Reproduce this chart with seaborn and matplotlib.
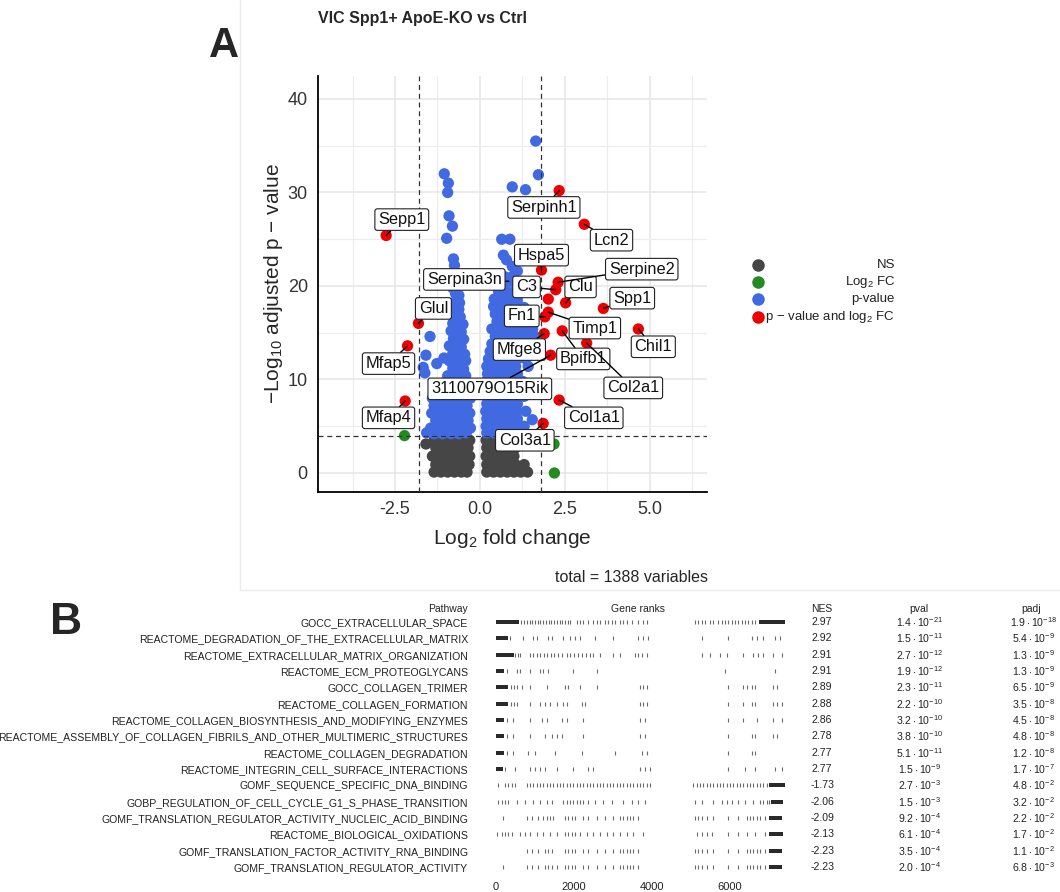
import numpy as np
import pandas as pd
import matplotlib
matplotlib.use('Agg')
import matplotlib.pyplot as plt
import matplotlib.transforms as mtransforms
from matplotlib.patches import Rectangle
from matplotlib.lines import Line2D
import seaborn as sns

sns.set_style('white')
plt.rcParams['font.family'] = ['Liberation Sans', 'DejaVu Sans']
plt.rcParams['mathtext.fontset'] = 'custom'
plt.rcParams['mathtext.rm'] = 'Liberation Sans'
plt.rcParams['mathtext.it'] = 'Liberation Sans:italic'
plt.rcParams['mathtext.bf'] = 'Liberation Sans:bold'
plt.rcParams['axes.unicode_minus'] = False

# ------------------------------------------------------------------ data (A)
title = "VIC Spp1+ ApoE-KO vs Ctrl"
fc_cutoff = 1.8
p_cutoff = 4.0
total_variables = 1388
categories = ['NS', 'Log2 FC', 'p-value', 'p-value and log2 FC']
legend_labels = ['NS', r'Log$_{2}$ FC', 'p-value', r'p $-$ value and log$_{2}$ FC']
category_colors = ['#464646', '#228B22', '#4169E1', '#EE0000']
x_ticks = [-2.5, 0.0, 2.5, 5.0]
y_ticks = [0, 10, 20, 30, 40]

ns_points = [
    (-1.59, 3.1),
    (-1.35, 0.1), (-1.15, 0.1), (-0.95, 0.1), (-0.75, 0.1), (-0.55, 0.1), (-0.38, 0.1),
    (-1.30, 0.9), (-1.10, 0.9), (-0.90, 0.9), (-0.70, 0.9), (-0.50, 0.9), (-0.32, 0.9),
    (-1.40, 1.8), (-1.20, 1.8), (-1.00, 1.8), (-0.80, 1.8), (-0.62, 1.8), (-0.45, 1.8), (-0.30, 1.8),
    (-1.30, 2.7), (-1.05, 2.7), (-0.88, 2.7), (-0.70, 2.7), (-0.52, 2.7), (-0.35, 2.7),
    (-1.35, 3.5), (-1.10, 3.5), (-0.90, 3.5), (-0.65, 3.5), (-0.45, 3.5), (-0.30, 3.5),
    (0.20, 0.1), (0.40, 0.1), (0.60, 0.1), (0.80, 0.1), (1.00, 0.1), (1.20, 0.1), (1.40, 0.1),
    (0.20, 0.9), (0.42, 0.9), (0.65, 0.9), (0.85, 0.9), (1.05, 0.9), (1.30, 0.9),
    (0.18, 1.8), (0.40, 1.8), (0.60, 1.8), (0.82, 1.8), (1.00, 1.8),
    (0.20, 2.7), (0.40, 2.7), (0.62, 2.7), (0.85, 2.7), (1.05, 2.7),
    (0.18, 3.5), (0.38, 3.5), (0.58, 3.5), (0.80, 3.5), (1.00, 3.5),
]

fc_points = [(-2.22, 4.0), (2.18, 3.1), (2.19, 0.0)]

pval_points = [
    (-1.05, 32.0), (-0.93, 31.0), (-0.95, 30.0), (-0.91, 27.5), (-0.81, 26.4), (-0.98, 25.1),
    (-0.78, 22.9), (-0.75, 22.2), (-0.74, 21.5), (-0.72, 20.8), (-0.68, 20.0), (-0.80, 19.8),
    (-0.72, 19.2), (-0.62, 19.0), (-0.70, 18.4), (-0.60, 18.2), (-0.75, 17.6), (-0.62, 17.5),
    (-0.72, 16.8), (-0.58, 16.7), (-0.80, 16.0), (-0.65, 16.0), (-0.50, 15.9),
    (-0.85, 15.2), (-0.70, 15.2), (-0.55, 15.1), (-1.47, 14.6), (-0.78, 14.4), (-0.62, 14.4), (-0.48, 14.3),
    (-0.90, 13.6), (-0.72, 13.6), (-0.55, 13.5), (-0.80, 12.8), (-0.62, 12.8), (-0.45, 12.7),
    (-1.59, 12.6), (-1.06, 12.3), (-0.90, 12.0), (-0.70, 12.0), (-0.55, 11.9), (-0.42, 12.0),
    (-1.27, 11.7), (-1.67, 11.3), (-0.80, 11.2), (-0.62, 11.2), (-0.48, 11.1), (-1.62, 10.7),
    (-0.95, 10.4), (-0.75, 10.4), (-0.58, 10.3), (-0.42, 10.4),
    (-1.10, 9.6), (-0.90, 9.6), (-0.70, 9.6), (-0.52, 9.5), (-0.38, 9.6),
    (-1.30, 8.8), (-1.10, 8.8), (-0.88, 8.8), (-0.68, 8.7), (-0.50, 8.8), (-0.35, 8.8),
    (-1.40, 8.0), (-1.20, 8.0), (-1.00, 8.0), (-0.80, 8.0), (-0.60, 7.9), (-0.42, 8.0), (-0.28, 8.0),
    (-1.35, 7.2), (-1.15, 7.2), (-0.95, 7.2), (-0.75, 7.1), (-0.55, 7.2), (-0.38, 7.2),
    (-1.42, 6.4), (-1.22, 6.4), (-1.02, 6.4), (-0.82, 6.3), (-0.62, 6.4), (-0.45, 6.4), (-0.30, 6.4),
    (-1.30, 5.6), (-1.10, 5.6), (-0.90, 5.6), (-0.70, 5.5), (-0.50, 5.6), (-0.35, 5.6),
    (-1.45, 4.8), (-1.25, 4.8), (-1.00, 4.8), (-0.80, 4.8), (-0.60, 4.7), (-0.42, 4.8), (-0.28, 4.8),
    (-1.57, 4.3), (-1.35, 4.2), (-1.10, 4.2), (-0.85, 4.2), (-0.62, 4.2), (-0.40, 4.3),
    (1.64, 35.5), (1.72, 31.9), (0.95, 30.6), (1.34, 30.3), (0.64, 25.0), (0.88, 25.0),
    (0.69, 23.3), (0.78, 22.8), (0.95, 22.1), (1.10, 21.6), (0.72, 21.0), (0.95, 21.0),
    (0.85, 20.5), (0.60, 20.2), (1.05, 20.2), (0.55, 19.4), (0.78, 19.4), (1.00, 19.4), (1.20, 19.3),
    (0.42, 18.6), (0.65, 18.6), (0.90, 18.6), (1.10, 18.5), (0.40, 17.8), (0.60, 17.8), (0.85, 17.8), (1.30, 17.7),
    (0.45, 17.0), (0.65, 17.0), (0.88, 17.0), (1.10, 17.0), (1.40, 16.9),
    (0.50, 16.2), (0.72, 16.2), (0.95, 16.2), (1.20, 16.1),
    (0.35, 15.4), (0.58, 15.4), (0.80, 15.4), (1.02, 15.3), (1.25, 15.4), (1.55, 15.4),
    (0.45, 14.6), (0.70, 14.6), (0.92, 14.6), (1.15, 14.5), (1.40, 14.6), (1.62, 14.6),
    (0.35, 13.8), (0.55, 13.8), (0.78, 13.8), (1.00, 13.7), (1.22, 13.8),
    (0.30, 13.0), (0.50, 13.0), (0.72, 13.0), (0.95, 12.9), (1.15, 13.0),
    (0.25, 12.2), (0.45, 12.2), (0.65, 12.2), (0.88, 12.1), (1.10, 12.2), (1.35, 12.2),
    (0.20, 11.4), (0.40, 11.4), (0.62, 11.4), (0.85, 11.3), (1.05, 11.4), (1.42, 11.4),
    (0.22, 10.6), (0.45, 10.6), (0.68, 10.6), (0.90, 10.5), (1.10, 10.6),
    (0.18, 9.8), (0.40, 9.8), (0.62, 9.8), (0.85, 9.7), (1.05, 9.8), (1.25, 9.8),
    (0.20, 9.0), (0.42, 9.0), (0.65, 9.0), (0.88, 8.9), (1.10, 9.0),
    (0.17, 8.2), (0.38, 8.2), (0.60, 8.2), (0.82, 8.1), (1.05, 8.2), (1.30, 8.2),
    (0.20, 7.4), (0.42, 7.4), (0.65, 7.4), (0.88, 7.3), (1.10, 7.4),
    (0.17, 6.6), (0.40, 6.6), (0.62, 6.6), (0.85, 6.5), (1.08, 6.6), (1.35, 6.6),
    (0.20, 5.8), (0.42, 5.8), (0.65, 5.8), (0.88, 5.7), (1.10, 5.8), (1.54, 5.7),
    (0.18, 5.0), (0.40, 5.0), (0.62, 5.0), (0.85, 4.9), (1.05, 5.0), (1.30, 5.0),
    (0.20, 4.3), (0.42, 4.3), (0.65, 4.3), (0.90, 4.2), (1.15, 4.3),
]

both_genes = ['Sepp1', 'Serpinh1', 'Lcn2', 'Hspa5', 'Serpine2', 'C3', 'Clu', 'Spp1', 'Timp1',
              'Fn1', 'Chil1', 'Bpifb1', 'Col2a1', 'Mfge8', '3110079O15Rik', 'Col1a1', 'Col3a1',
              'Glul', 'Mfap5', 'Mfap4', '']
both_x = [-2.76, 2.33, 3.07, 1.81, 2.30, 2.23, 2.52, 3.63, 2.01,
          1.91, 4.66, 2.42, 3.14, 1.89, 2.08, 2.33, 1.86,
          -1.81, -2.13, -2.20, 2.01]
both_y = [25.4, 30.2, 26.6, 21.7, 20.4, 19.6, 18.2, 17.6, 17.2,
          16.7, 15.4, 15.2, 13.9, 14.9, 12.6, 7.8, 5.3,
          16.0, 13.6, 7.7, 18.6]

# label box centres (layout)
label_pos = {
    'Sepp1': (-2.30, 27.1), 'Serpinh1': (1.88, 28.4), 'Lcn2': (3.87, 24.9), 'Hspa5': (1.81, 23.3),
    'Serpina3n': (-0.46, 20.7), 'C3': (1.37, 19.9), 'Clu': (2.96, 19.9), 'Serpine2': (4.76, 21.8),
    'Spp1': (4.48, 18.7), 'Glul': (-1.37, 17.6), 'Fn1': (1.23, 16.8), 'Timp1': (3.38, 15.5),
    'Chil1': (5.10, 13.5), 'Mfge8': (1.16, 13.2), 'Bpifb1': (3.04, 12.2), 'Mfap5': (-2.69, 11.7),
    '3110079O15Rik': (0.29, 9.0), 'Col2a1': (4.51, 9.1), 'Col1a1': (3.35, 5.9), 'Mfap4': (-2.69, 5.9),
    'Col3a1': (1.32, 3.5),
}
serpina3n_point = (0.85, 20.5)

# ------------------------------------------------------------------ data (B)
pathways = [
    'GOCC_EXTRACELLULAR_SPACE',
    'REACTOME_DEGRADATION_OF_THE_EXTRACELLULAR_MATRIX',
    'REACTOME_EXTRACELLULAR_MATRIX_ORGANIZATION',
    'REACTOME_ECM_PROTEOGLYCANS',
    'GOCC_COLLAGEN_TRIMER',
    'REACTOME_COLLAGEN_FORMATION',
    'REACTOME_COLLAGEN_BIOSYNTHESIS_AND_MODIFYING_ENZYMES',
    'REACTOME_ASSEMBLY_OF_COLLAGEN_FIBRILS_AND_OTHER_MULTIMERIC_STRUCTURES',
    'REACTOME_COLLAGEN_DEGRADATION',
    'REACTOME_INTEGRIN_CELL_SURFACE_INTERACTIONS',
    'GOMF_SEQUENCE_SPECIFIC_DNA_BINDING',
    'GOBP_REGULATION_OF_CELL_CYCLE_G1_S_PHASE_TRANSITION',
    'GOMF_TRANSLATION_REGULATOR_ACTIVITY_NUCLEIC_ACID_BINDING',
    'REACTOME_BIOLOGICAL_OXIDATIONS',
    'GOMF_TRANSLATION_FACTOR_ACTIVITY_RNA_BINDING',
    'GOMF_TRANSLATION_REGULATOR_ACTIVITY',
]
nes = [2.97, 2.92, 2.91, 2.91, 2.89, 2.88, 2.86, 2.78, 2.77, 2.77, -1.73, -2.06, -2.09, -2.13, -2.23, -2.23]
pval_mant = [1.4, 1.5, 2.7, 1.9, 2.3, 2.2, 3.2, 3.8, 5.1, 1.5, 2.7, 1.5, 9.2, 6.1, 3.5, 2.0]
pval_exp = [-21, -11, -12, -12, -11, -10, -10, -10, -11, -9, -3, -3, -4, -4, -4, -4]
padj_mant = [1.9, 5.4, 1.3, 1.3, 6.5, 3.5, 4.5, 4.8, 1.2, 1.7, 4.8, 3.2, 2.2, 1.7, 1.1, 6.8]
padj_exp = [-18, -9, -9, -9, -9, -8, -8, -8, -8, -7, -2, -2, -2, -2, -2, -3]
rank_ticks_x = [0, 2000, 4000, 6000]

rank_spans = [
    [(0, 600), (6750, 7410)],
    [(0, 300)],
    [(0, 450)],
    [(0, 200)],
    [(0, 300)],
    [(0, 300)],
    [(0, 200)],
    [(0, 200)],
    [(0, 200)],
    [(0, 180)],
    [(7000, 7410)],
    [(7050, 7368)],
    [(7000, 7325)],
    [(7000, 7368)],
    [(7000, 7325)],
    [(7000, 7325)],
]
rank_hits = [
    [650, 720, 790, 860, 930, 1000, 1070, 1140, 1210, 1280, 1350, 1420, 1490, 1560, 1630, 1700, 1770, 1840, 1900,
     2069, 2154, 2240, 2368, 2496, 2581, 2667, 2795, 2880, 2966, 3051, 3180, 3265, 3351, 3480, 3650, 3780, 3864,
     5100, 5190, 5274, 5360, 5488, 5573, 5700, 5787, 5872, 5958, 6043, 6130, 6214, 6300, 6385, 6470, 6560, 6650],
    [350, 701, 958, 1043, 1342, 1428, 1727, 1897, 2026, 2154, 2539, 3009, 3650, 3778, 3906,
     5274, 5958, 6556, 6684, 6855, 7154, 7282],
    [500, 560, 620, 870, 960, 1050, 1140, 1230, 1320, 1400,
     1500, 1600, 1700, 1812, 1897, 2000, 2100, 2200, 2300, 2400, 2500, 2667, 3009, 3180, 3564, 3650, 3735, 3864,
     5274, 5488, 5744, 5915, 6342, 6598, 6727, 6855, 7111, 7325],
    [274, 530, 616, 872, 1128, 1214, 1342, 1983, 2581, 5872, 7154],
    [380, 450, 530, 658, 872, 1299, 1769, 1855, 2154, 2581, 3693, 3778, 3864, 5958, 6342, 6428, 6556, 6641, 7111, 7197],
    [380, 450, 530, 872, 1128, 1257, 1385, 1556, 1727, 1812, 2197, 2283, 3693, 3778, 3864, 5958, 6342, 6556, 6641,
     7111, 7197, 7325],
    [274, 445, 872, 1171, 1299, 1684, 1812, 2240, 3693, 3821, 5958, 6342, 6684, 7111, 7325],
    [274, 445, 872, 1257, 1428, 1556, 1684, 2240, 3693, 3821, 5958, 6556, 6641, 7111, 7197],
    [274, 445, 829, 1000, 1513, 2197, 3051, 3735, 3864, 5958, 6556, 6641],
    [231, 487, 872, 1000, 1128, 1257, 1556, 1983, 2368, 2496, 3693, 3821, 3949, 5958, 6385, 6641, 7154, 7325],
    [60, 231, 316, 402, 487, 787, 872, 958, 1043, 1128, 1214, 1299, 1385, 1470, 1556, 1641, 1727, 1812, 1897,
     1983, 2069, 2154, 2240, 2325, 2410, 2496, 2581, 2667, 2752, 2838, 2923, 3009, 3094, 3180, 3265, 3351,
     3436, 3522, 3607, 3693, 3778, 3864, 3949,
     5060, 5146, 5231, 5316, 5402, 5488, 5573, 5658, 5744, 5829, 5915, 6000, 6085, 6171, 6256, 6342, 6427,
     6513, 6598, 6684, 6770, 6855, 6940],
    [60, 146, 231, 316, 530, 744, 958, 1128, 1299, 1428, 1727, 1812, 1897, 1983, 2069, 2154, 2240, 2368, 2539,
     2752, 2966, 3265, 3479, 3650, 3821,
     5103, 5274, 5573, 5787, 5915, 6043, 6214, 6385, 6598, 6770, 6855, 6940, 7000],
    [171, 787, 915, 1086, 1214, 1299, 1385, 1470, 1769, 1855, 1940, 2026, 2240, 2368, 2581, 2795, 3009, 3180,
     3265, 3351, 3436, 3522, 3650,
     5103, 5190, 5274, 5402, 5573, 5958, 6214, 6428, 6513, 6598, 6684, 6770, 6898],
    [17, 146, 231, 316, 402, 616, 744, 872, 1043, 1214, 1385, 1556, 1769, 1855, 1940, 2026, 2154, 2325, 2496,
     2667, 2838, 3009, 3180, 3351, 3522, 3778,
     5146, 5274, 5402, 5530, 5958, 6214, 6428, 6641, 6898],
    [787, 915, 1086, 1257, 1342, 1428, 1769, 1855, 1940, 2026, 2240, 2368, 2581, 2795, 3009, 3180, 3265, 3351,
     3436, 3522, 3650,
     5103, 5190, 5274, 5402, 5573, 5958, 6214, 6428, 6513, 6598, 6684, 6770, 6898],
    [171, 787, 915, 1086, 1257, 1342, 1428, 1556, 1769, 1855, 1940, 2026, 2240, 2368, 2581, 2795, 3009, 3180,
     3265, 3351, 3436, 3522, 3650,
     5103, 5190, 5274, 5402, 5573, 5958, 6214, 6428, 6513, 6598, 6684, 6770, 6898],
]

# ------------------------------------------------------------------ figure
W, H = 1060, 892
fig = plt.figure(figsize=(W / 100, H / 100), dpi=100)
fig.patch.set_facecolor('white')


def px_rect(l, t, r, b):
    return [l / W, 1 - b / H, (r - l) / W, (b - t) / H]


def fx(px):
    return px / W


def fy(py):
    return 1 - py / H


# faint frame of panel A
fig.add_artist(Line2D([fx(240), fx(240)], [fy(0), fy(590)], color='#ececec', lw=1))
fig.add_artist(Line2D([fx(240), fx(1060)], [fy(590), fy(590)], color='#ececec', lw=1))

# ---------------- volcano
ax = fig.add_axes(px_rect(317.5, 75.6, 707, 491.7))
rows = []
for (x, y) in ns_points:
    rows.append((x, y, categories[0]))
for (x, y) in fc_points:
    rows.append((x, y, categories[1]))
for (x, y) in pval_points:
    rows.append((x, y, categories[2]))
for x, y in zip(both_x, both_y):
    rows.append((x, y, categories[3]))
df = pd.DataFrame(rows, columns=['log2FC', 'nlog10p', 'group'])
sns.scatterplot(data=df, x='log2FC', y='nlog10p', hue='group', hue_order=categories,
                palette=category_colors, s=66, linewidth=0, alpha=1, legend=False, ax=ax, zorder=3)

ax.set_xlim(-4.78, 6.68)
ax.set_ylim(-2.0, 42.5)
ax.set_xticks(x_ticks)
ax.set_xticklabels(['%.1f' % v for v in x_ticks])
ax.set_yticks(y_ticks)
ax.set_xticks([-3.75, -1.25, 1.25, 3.75, 6.25], minor=True)
ax.set_yticks([5, 15, 25, 35], minor=True)
ax.grid(which='major', color='#e6e6e6', lw=1.1)
ax.grid(which='minor', color='#ececec', lw=0.8)
ax.set_axisbelow(True)
for s in ['top', 'right']:
    ax.spines[s].set_visible(False)
for s in ['left', 'bottom']:
    ax.spines[s].set_color('black')
    ax.spines[s].set_linewidth(1.3)
ax.tick_params(which='major', length=4, width=1.0, color='black', labelsize=13, labelcolor='#333333', pad=3)
ax.tick_params(which='minor', length=0)
ax.set_xlabel(r'Log$_{2}$ fold change', fontsize=15, labelpad=6)
ax.set_ylabel(r'$-\mathrm{Log}_{10}$ adjusted p $-$ value', fontsize=15, labelpad=2)

ax.axvline(-fc_cutoff, color='#333333', lw=0.9, ls=(0, (4, 3)), zorder=4)
ax.axvline(fc_cutoff, color='#333333', lw=0.9, ls=(0, (4, 3)), zorder=4)
ax.axhline(p_cutoff, color='#333333', lw=0.9, ls=(0, (4, 3)), zorder=4)

gene_points = {g: (x, y) for g, x, y in zip(both_genes, both_x, both_y) if g}
gene_points['Serpina3n'] = serpina3n_point
for gene, (tx, ty) in label_pos.items():
    gx, gy = gene_points[gene]
    ax.annotate(gene, xy=(gx, gy), xytext=(tx, ty), ha='center', va='center', fontsize=11.8, color='#111111',
                zorder=6,
                bbox=dict(boxstyle='round,pad=0.2,rounding_size=0.15', fc='white', ec='#222222', lw=0.8),
                arrowprops=dict(arrowstyle='-', color='black', lw=1.0, shrinkA=0, shrinkB=0))

fig.text(fx(318), fy(18), title, fontsize=11.5, fontweight='bold', ha='left', va='center')
fig.text(fx(224), fy(46), 'A', fontsize=30, fontweight='bold', ha='center', va='center')
fig.text(fx(708), fy(577), 'total = %d variables' % total_variables, fontsize=11.5, ha='right', va='center')

# legend
legend_y = [265, 282, 299, 317]
for lab, col, ly in zip(legend_labels, category_colors, legend_y):
    fig.add_artist(Line2D([fx(758)], [fy(ly)], marker='o', ms=8, color=col, mec=col, ls='none'))
    fig.text(fx(895), fy(ly), lab, fontsize=9.5, ha='right', va='center', color='#222222')

# ---------------- panel B
fig.text(fx(66), fy(622), 'B', fontsize=32, fontweight='bold', ha='center', va='center')

axr = fig.add_axes(px_rect(480, 598, 800, 876))
axr.set_xlim(-410, 7795)
axr.set_ylim(15.55, -1.47)
hh = 0.13
for i in range(len(pathways)):
    for (a, b) in rank_spans[i]:
        axr.add_patch(Rectangle((a, i - hh), b - a, 2 * hh, facecolor='#2a2a2a', edgecolor='none', lw=0))
    axr.vlines(rank_hits[i], i - hh, i + hh, color='#6a6a6a', lw=0.8)
for s in axr.spines.values():
    s.set_visible(False)
axr.set_xticks(rank_ticks_x)
axr.set_xticklabels([str(v) for v in rank_ticks_x])
axr.tick_params(axis='x', length=2.5, width=0.6, color='#555555', labelsize=8, labelcolor='#222222', pad=1.5)
axr.set_yticks(range(len(pathways)))
axr.set_yticklabels(pathways)
axr.tick_params(axis='y', length=0, labelsize=7.6, labelcolor='#222222', pad=8.6)

tr = mtransforms.blended_transform_factory(fig.transFigure, axr.transData)
hy = -0.8
axr.text(fx(468), hy, 'Pathway', transform=tr, fontsize=7.5, ha='right', va='center', color='#222222')
axr.text(fx(638), hy, 'Gene ranks', transform=tr, fontsize=7.5, ha='center', va='center', color='#222222')
axr.text(fx(811), hy, 'NES', transform=tr, fontsize=7.5, ha='left', va='center', color='#222222')
axr.text(fx(919), hy, 'pval', transform=tr, fontsize=7.5, ha='center', va='center', color='#222222')
axr.text(fx(1031), hy, 'padj', transform=tr, fontsize=7.5, ha='center', va='center', color='#222222')
for i in range(len(pathways)):
    axr.text(fx(811), i, '%.2f' % nes[i], transform=tr, fontsize=7.6, ha='left', va='center', color='#222222')
    axr.text(fx(919), i, r'$%.1f\cdot10^{%d}$' % (pval_mant[i], pval_exp[i]), transform=tr, fontsize=7.6,
             ha='center', va='center', color='#222222')
    axr.text(fx(1033), i, r'$%.1f\cdot10^{%d}$' % (padj_mant[i], padj_exp[i]), transform=tr, fontsize=7.6,
             ha='center', va='center', color='#222222')

fig.savefig('out.png', dpi=100, facecolor='white')
